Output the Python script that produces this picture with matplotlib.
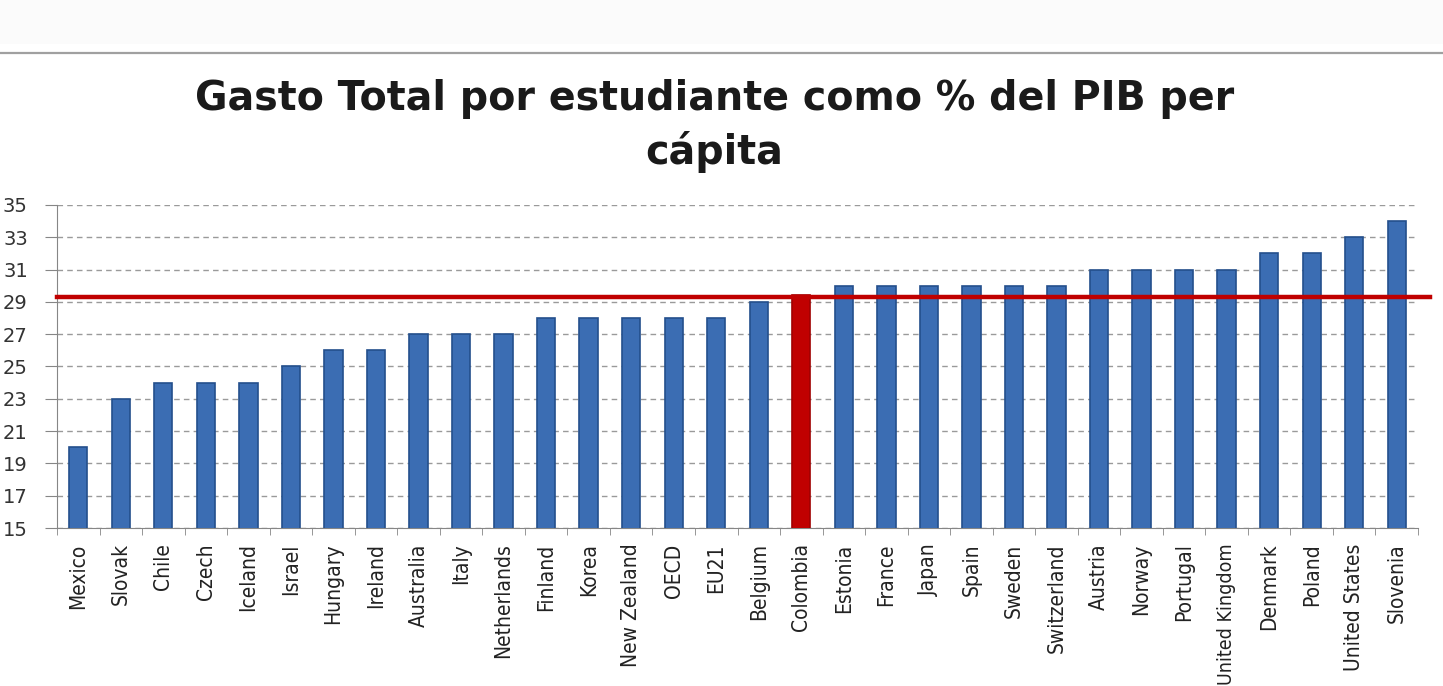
import matplotlib.pyplot as plt
from matplotlib.patches import Rectangle
from matplotlib.lines import Line2D
import numpy as np

# Datos
paises = ['Mexico', 'Slovak', 'Chile', 'Czech', 'Iceland', 'Israel', 'Hungary',
          'Ireland', 'Australia', 'Italy', 'Netherlands', 'Finland', 'Korea',
          'New Zealand', 'OECD', 'EU21', 'Belgium', 'Colombia', 'Estonia',
          'France', 'Japan', 'Spain', 'Sweden', 'Switzerland', 'Austria',
          'Norway', 'Portugal', 'United Kingdom', 'Denmark', 'Poland',
          'United States', 'Slovenia']
gasto = [20, 23, 24, 24, 24, 25, 26, 26, 27, 27, 27, 28, 28, 28, 28, 28, 29,
         29.4, 30, 30, 30, 30, 30, 30, 31, 31, 31, 31, 32, 32, 33, 34]
nivel_colombia = 29.3
yticks = list(range(15, 36, 2))

fig = plt.figure(figsize=(14.43, 6.86), dpi=100)

# Franja superior gris y línea separadora
fig.patches.append(Rectangle((0, 1 - 44 / 686), 1, 44 / 686, transform=fig.transFigure,
                             facecolor='#fbfbfb', edgecolor='none', zorder=0))
fig.lines.append(Line2D([0, 1], [1 - 53 / 686] * 2, transform=fig.transFigure,
                        color='#a0a0a0', lw=1.6))

ax = fig.add_axes([57 / 1443, 1 - 528 / 686, (1418 - 57) / 1443, (528 - 205) / 686])

x = np.arange(len(paises))
colores = ['#c00000' if p == 'Colombia' else '#3b6db3' for p in paises]
bordes = ['#a00000' if p == 'Colombia' else '#244f8c' for p in paises]
ax.bar(x, gasto, width=0.43, color=colores, edgecolor=bordes, linewidth=1.2, zorder=3)

# línea de referencia de Colombia
ax.axhline(nivel_colombia, xmin=0, xmax=1.009, color='#c00000', lw=3.2, zorder=4, clip_on=False)

ax.set_ylim(15, 35)
ax.set_xlim(-0.5, len(paises) - 0.5)
ax.set_yticks(yticks)
ax.set_yticklabels([str(v) for v in yticks], fontsize=14, color='#333333')
ax.tick_params(axis='y', length=9, pad=12, color='#868686')

ax.set_xticks(x)
etiquetas = ax.set_xticklabels(paises, rotation=90, fontsize=15, color='#222222',
                               family='DejaVu Sans', fontstretch='condensed')
# la etiqueta más larga un poco menor para que no se corte
etiquetas[paises.index('United Kingdom')].set_fontsize(14)
ax.set_xticks(np.arange(len(paises) + 1) - 0.5, minor=True)
ax.tick_params(axis='x', which='major', length=0, pad=11)
ax.tick_params(axis='x', which='minor', length=5, color='#868686')

ax.grid(axis='y', color='#9a9a9a', linestyle=(0, (4, 3)), lw=1, zorder=0)
for s in ['top', 'right']:
    ax.spines[s].set_visible(False)
for s in ['left', 'bottom']:
    ax.spines[s].set_color('#868686')

fig.text(0.495, 1 - 126 / 686, 'Gasto Total por estudiante como % del PIB per\ncápita',
         ha='center', va='center', fontsize=28.5, fontweight='bold', color='#1a1a1a',
         linespacing=1.36)

fig.savefig('out.png', dpi=100)
